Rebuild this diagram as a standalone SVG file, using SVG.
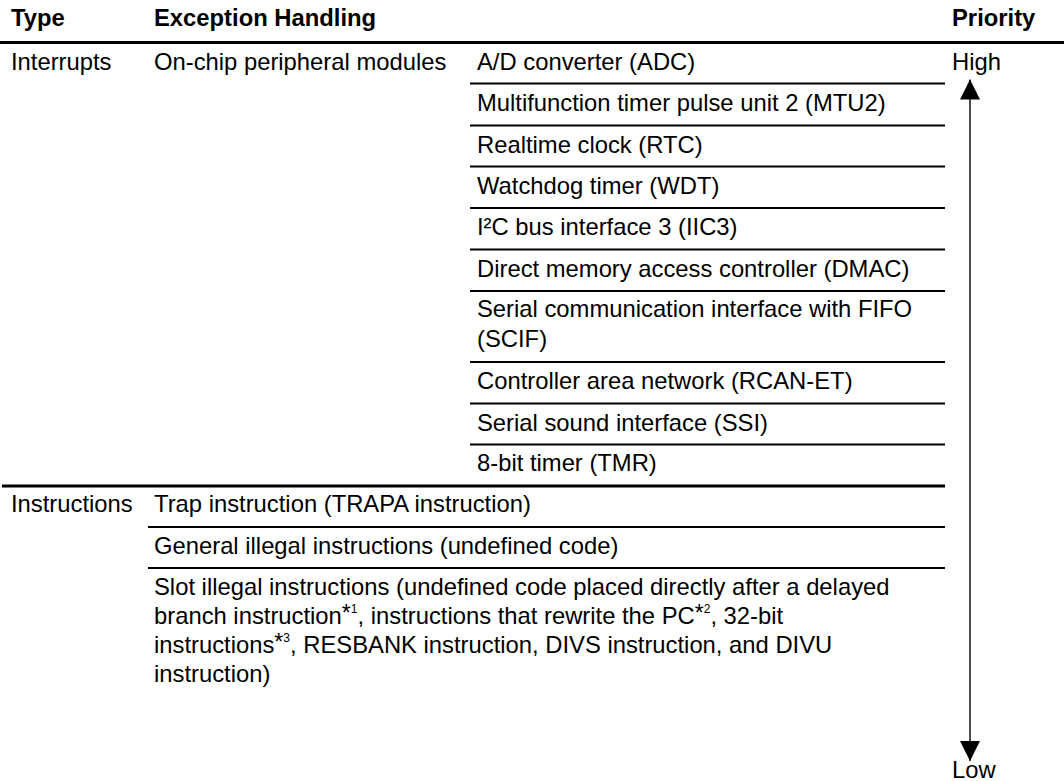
<svg xmlns="http://www.w3.org/2000/svg" width="1064" height="781" viewBox="0 0 1064 781">
<style>
text{font-family:"Liberation Sans",Arial,Helvetica,sans-serif;font-size:23.8px;fill:#000}
.h{font-weight:bold}
.ast{font-size:23px}
.sup{font-size:12px}
.rule{stroke:#000;stroke-width:2}
.thick{stroke:#000;stroke-width:3.2}
.arrow{stroke:#000;stroke-width:1.4;fill:none}
</style>
<defs>
<marker id="head" markerUnits="userSpaceOnUse" markerWidth="20" markerHeight="20" refX="20" refY="10" orient="auto-start-reverse" viewBox="0 0 20 20">
<path d="M0,0 L20,10 L0,20 z" fill="#000"/>
</marker>
</defs>
<rect width="1064" height="781" fill="#fff"/>
<g id="header">
<text class="h" x="11" y="26">Type</text>
<text class="h" x="154" y="26">Exception Handling</text>
<text class="h" x="952" y="26">Priority</text>
<line class="thick" x1="0" y1="42.5" x2="1064" y2="42.5"/>
</g>
<g id="interrupts">
<text x="11" y="70">Interrupts</text>
<text x="154" y="70">On-chip peripheral modules</text>
</g>
<g id="adc"><text x="477" y="70">A/D converter (ADC)</text><line class="rule" x1="470" y1="83.5" x2="945" y2="83.5"/></g>
<g id="mtu2"><text x="477" y="111">Multifunction timer pulse unit 2 (MTU2)</text><line class="rule" x1="470" y1="125.5" x2="945" y2="125.5"/></g>
<g id="rtc"><text x="477" y="153">Realtime clock (RTC)</text><line class="rule" x1="470" y1="166.5" x2="945" y2="166.5"/></g>
<g id="wdt"><text x="477" y="194">Watchdog timer (WDT)</text><line class="rule" x1="470" y1="208" x2="945" y2="208"/></g>
<g id="iic3"><text x="477" y="235">I²C bus interface 3 (IIC3)</text><line class="rule" x1="470" y1="249.5" x2="945" y2="249.5"/></g>
<g id="dmac"><text x="477" y="277">Direct memory access controller (DMAC)</text><line class="rule" x1="470" y1="291" x2="945" y2="291"/></g>
<g id="scif"><text x="477" y="317">Serial communication interface with FIFO</text><text x="477" y="346.5">(SCIF)</text><line class="rule" x1="470" y1="362" x2="945" y2="362"/></g>
<g id="rcan"><text x="477" y="389">Controller area network (RCAN-ET)</text><line class="rule" x1="470" y1="403.5" x2="945" y2="403.5"/></g>
<g id="ssi"><text x="477" y="431">Serial sound interface (SSI)</text><line class="rule" x1="470" y1="444.5" x2="945" y2="444.5"/></g>
<g id="tmr"><text x="477" y="471">8-bit timer (TMR)</text><line class="thick" x1="2" y1="486" x2="945" y2="486"/></g>
<g id="instructions"><text x="11" y="512">Instructions</text></g>
<g id="trapa"><text x="154" y="512">Trap instruction (TRAPA instruction)</text><line class="rule" x1="148" y1="527" x2="945" y2="527"/></g>
<g id="general"><text x="154" y="554">General illegal instructions (undefined code)</text><line class="rule" x1="148" y1="568" x2="945" y2="568"/></g>
<g id="slot">
<text x="154" y="595">Slot illegal instructions (undefined code placed directly after a delayed</text>
<text x="154" y="624">branch instruction<tspan class="ast" dy="-3">*</tspan><tspan class="sup" dy="-8">1</tspan><tspan dy="11">, instructions that rewrite the PC</tspan><tspan class="ast" dy="-3">*</tspan><tspan class="sup" dy="-8">2</tspan><tspan dy="11">, 32-bit</tspan></text>
<text x="154" y="653">instructions<tspan class="ast" dy="-3">*</tspan><tspan class="sup" dy="-8">3</tspan><tspan dy="11">, RESBANK instruction, DIVS instruction, and DIVU</tspan></text>
<text x="154" y="682">instruction)</text>
</g>
<g id="priority">
<text x="952" y="70">High</text>
<text x="952" y="778">Low</text>
</g>
<g id="connectors">
<line class="arrow" x1="970" y1="79.5" x2="970" y2="761" marker-start="url(#head)" marker-end="url(#head)"/>
</g>
</svg>
